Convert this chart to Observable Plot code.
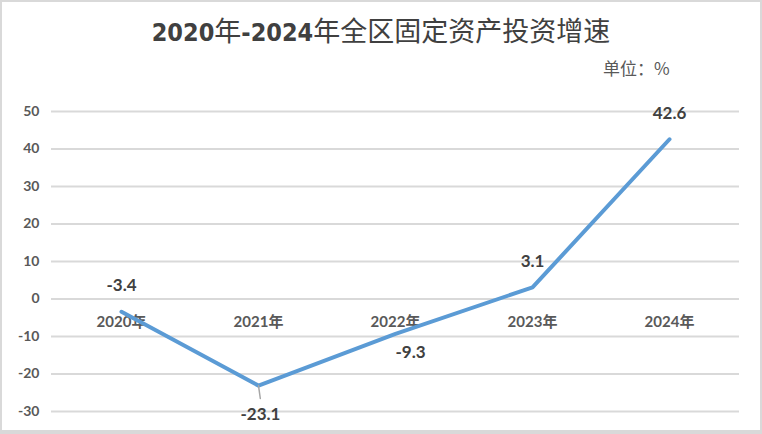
<!DOCTYPE html>
<html><head><meta charset="utf-8">
<script src="https://cdn.jsdelivr.net/npm/d3@7"></script>
<script src="https://cdn.jsdelivr.net/npm/@observablehq/plot@0.6"></script>
<style>
html,body{margin:0;padding:0;background:#fff;}
#frame{position:relative;width:762px;height:434px;overflow:hidden;background:#fff;}
#border{position:absolute;left:0;top:0;width:762px;height:434px;box-sizing:border-box;border:2px solid #d9d9d9;border-bottom-width:4px;pointer-events:none;z-index:5;}
#chart{position:absolute;left:0;top:0;}
#title{position:absolute;left:0;top:12px;width:762px;text-align:center;white-space:nowrap;
  font-family:"Noto Sans CJK SC",sans-serif;font-size:27px;line-height:36px;color:#404040;font-weight:400;}
#title .d{font-family:"DejaVu Sans Condensed","Noto Sans CJK SC",sans-serif;font-weight:700;font-size:25px;}
#unit{position:absolute;left:603px;top:56px;white-space:nowrap;font-family:"Noto Sans CJK SC",sans-serif;font-size:17px;line-height:24px;color:#595959;}
</style>
</head><body>
<div id="frame">
  <div id="chart"></div>
  <div id="title"><span class="d">2020</span>年<span class="d">-2024</span>年全区固定资产投资增速</div>
  <div id="unit">单位：%</div>
  <div id="border"></div>
</div>
<script>
const years = ["2020年", "2021年", "2022年", "2023年", "2024年"];
const growth = [-3.4, -23.1, -9.3, 3.1, 42.6];
const yTicks = [-30, -20, -10, 0, 10, 20, 30, 40, 50];

const data = years.map((year, i) => ({year, value: growth[i]}));
const labelAbove = data.filter(d => d.value === growth[0] || d.value === growth[3] || d.value === growth[4]);
const labelBelow = data.filter(d => d.value === growth[1]);
const labelBelowRight = data.filter(d => d.value === growth[2]);

const font = "Lato, 'Noto Sans CJK SC', sans-serif";
const leader = {draw(context, l) { context.moveTo(0, 0); context.lineTo(0, -l); }};

const chart = Plot.plot({
  width: 762,
  height: 434,
  marginLeft: 51,
  marginRight: 23,
  marginTop: 111,
  marginBottom: 23,
  x: {type: "point", domain: years, padding: 0.5, axis: null},
  y: {domain: [-30, 50], axis: null},
  style: {background: "transparent", fontFamily: font, color: "#595959", overflow: "visible"},
  marks: [
    Plot.ruleY(yTicks, {stroke: "#d9d9d9", strokeWidth: 2}),
    Plot.text(yTicks, {x: null, y: d => d, text: d => String(d), frameAnchor: "left", dx: -12, textAnchor: "end",
      fontSize: 14, fontWeight: "bold", fill: "#595959"}),
    Plot.text(years, {x: d => d, y: () => 0, text: d => d, dy: 23, fontSize: 15, fontWeight: "bold", fill: "#595959"}),
    Plot.line(data, {x: "year", y: "value", stroke: "#5B9BD5", strokeWidth: 4, strokeLinecap: "round", strokeLinejoin: "miter"}),
    Plot.vector(labelBelow, {x: "year", y: "value", length: 13, rotate: 172, anchor: "start", shape: leader, stroke: "#a6a6a6", strokeWidth: 1.5}),
    Plot.text(labelAbove, {x: "year", y: "value", text: d => String(d.value), dy: -26, fontSize: 17, fontWeight: "bold", fill: "#404040"}),
    Plot.text(labelBelow, {x: "year", y: "value", text: d => String(d.value), dy: 29, dx: 2, fontSize: 17, fontWeight: "bold", fill: "#404040"}),
    Plot.text(labelBelowRight, {x: "year", y: "value", text: d => String(d.value), dy: 19, dx: 15, fontSize: 17, fontWeight: "bold", fill: "#404040"})
  ]
});
document.getElementById("chart").append(chart);
</script>
</body></html>
